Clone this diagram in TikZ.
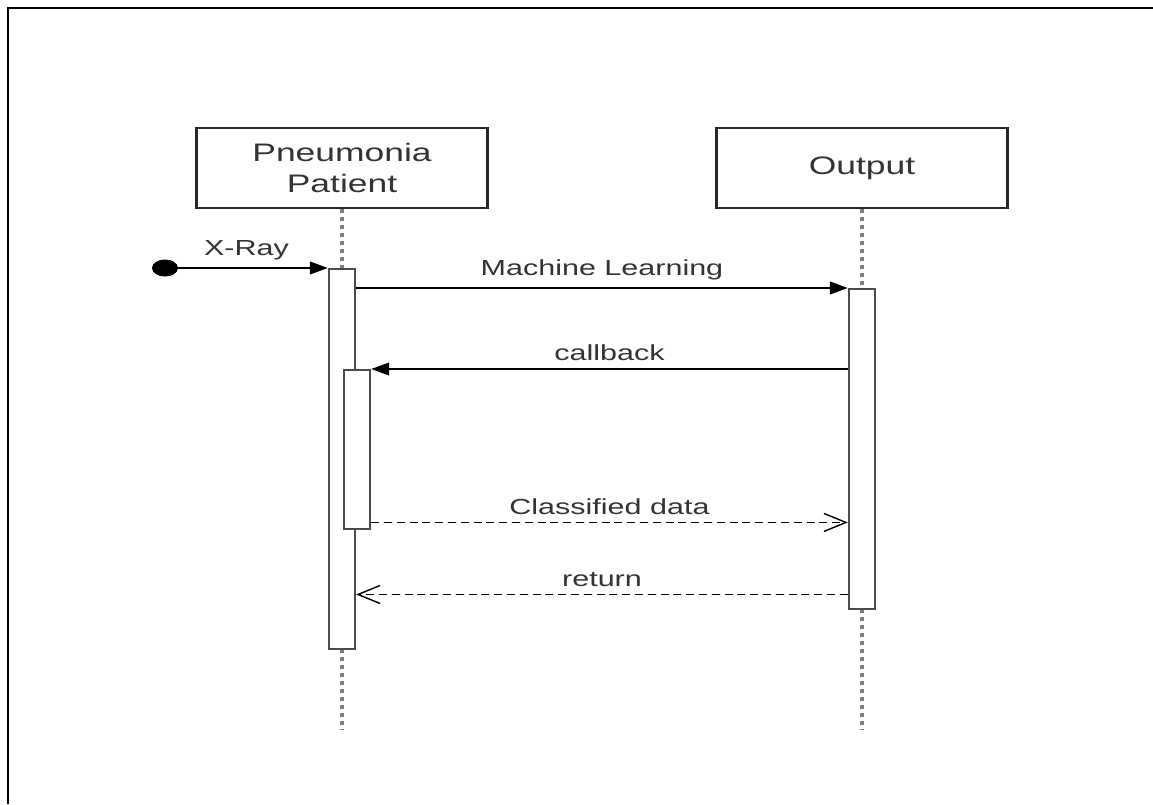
\documentclass[tikz,border=0pt]{standalone}
\usepackage{fontspec}
\setmainfont{Liberation Sans}[FakeStretch=1.4]
\usetikzlibrary{arrows.meta,calc}

\begin{document}
\begin{tikzpicture}[x=0.025cm, y=-0.025cm,
  lifebox/.style={draw=black!85, line width=1.5pt, minimum width=7.275cm, minimum height=2cm,
    align=center, text=black!80, font=\fontsize{18}{22}\selectfont},
  actbar/.style={draw=black!70, line width=1.7pt, fill=white, minimum width=0.65cm, inner sep=0pt},
  lifeline/.style={black!50, line width=2.2pt, dash pattern=on 0.1cm off 0.1cm},
  call/.style={-{Triangle[length=0.45cm,width=0.32cm]}, line width=1.1pt},
  back/.style={-{Straight Barb[length=0.55cm,width=0.45cm]}, line width=1pt, dash pattern=on 0.2cm off 0.12cm},
  lbl/.style={midway, above, inner sep=5pt, text=black!80, font=\fontsize{15.5}{18}\selectfont}]

\useasboundingbox (0,0) rectangle (1153,804);
\draw[line width=1.6pt] (8,804) -- (8,8) -- (1153,8);

\node[lifebox] (pat) at (342,168) {Pneumonia\\Patient};
\node[lifebox] (out) at (862,168) {Output};

\coordinate (patend) at (342,730);
\coordinate (outend) at (862,730);

% lifelines
\draw[lifeline] (pat.south) -- (patend);
\draw[lifeline] (out.south) -- (outend);

% activation bars
\node[actbar, minimum height=9.5cm, anchor=north] (patbar) at (342,268) {};
\node[actbar, minimum height=8cm, anchor=north] (outbar) at (862,288) {};
\node[actbar, minimum height=3.975cm, anchor=north] (nest) at (357,369) {};

% messages
\coordinate (src) at (165,268);
\fill (src) ellipse [x radius=13, y radius=8.5];
\draw[call] (src) -- (patbar.north west) node[lbl]{X-Ray};
\draw[call] (patbar.east |- outbar.north) -- (outbar.north west) node[lbl]{Machine Learning};
\draw[call] (outbar.west |- nest.north) -- (nest.north east) node[lbl]{callback};

\coordinate (cd) at ($(nest.south east)+(0,-8)$);
\draw[back] (cd) -- (cd -| outbar.west) node[lbl]{Classified data};
\coordinate (rt) at ($(outbar.south west)+(0,-16)$);
\draw[back] (rt) -- (rt -| patbar.east) node[lbl]{return};
\end{tikzpicture}
\end{document}
